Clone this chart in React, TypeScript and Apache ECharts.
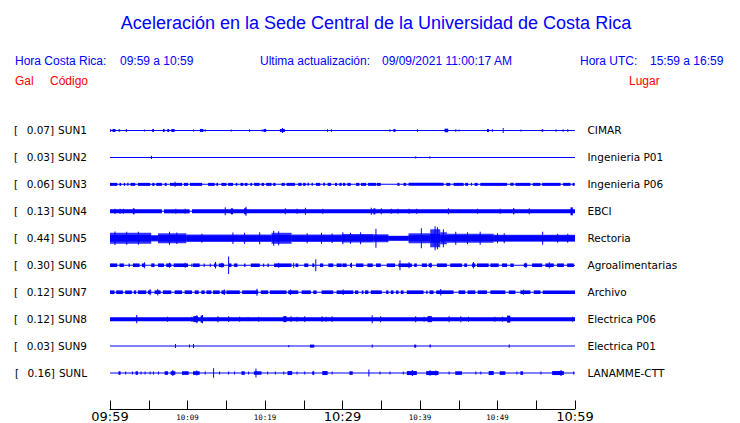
import React, { useEffect, useRef } from 'react';
import * as echarts from 'echarts';

// ---------- texts ----------
const TITLE = 'Aceleración en la Sede Central de la Universidad de Costa Rica';
const CR_LABEL = 'Hora Costa Rica:';
const CR_RANGE = '09:59 a 10:59';
const UPD_LABEL = 'Ultima actualización:';
const UPD_VALUE = '09/09/2021 11:00:17 AM';
const UTC_LABEL = 'Hora UTC:';
const UTC_RANGE = '15:59 a 16:59';
const COL_GAL = 'Gal';
const COL_CODE = 'Código';
const COL_PLACE = 'Lugar';

// ---------- axis ----------
const START_MIN = 9 * 60 + 59; // 09:59 local time
const SPAN_MIN = 60;

// ---------- stations ----------
const CODES = ['SUN1', 'SUN2', 'SUN3', 'SUN4', 'SUN5', 'SUN6', 'SUN7', 'SUN8', 'SUN9', 'SUNL'];
const GAL = ['0.07', '0.03', '0.06', '0.13', '0.44', '0.30', '0.12', '0.12', '0.03', '0.16'];
const PLACES = ['CIMAR', 'Ingenieria P01', 'Ingenieria P06', 'EBCI', 'Rectoria', 'Agroalimentarias', 'Archivo', 'Electrica P06', 'Electrica P01', 'LANAMME-CTT'];

// amplitude counts between two neighbouring traces
const ROW_SPAN = 27;

// ---------- waveform envelopes: [startMin, endMin, halfAmplitude] and spikes [min, halfAmplitude] ----------
type Seg = [number, number, number];
type Spike = [number, number];

const SUN1_SEG: Seg[] = [[0, 0.15, 1.3], [0.32, 0.71, 1.5], [1.1, 1.3, 1.2], [5.45, 5.66, 1.5], [6.83, 7.05, 1.5], [7.39, 7.65, 1.5], [7.91, 8.34, 1.5], [11.61, 12.05, 1.5], [19.8, 20.15, 1.5], [21.92, 22.56, 1.5], [36.57, 36.83, 1.5], [43.17, 43.64, 1.8], [48.65, 48.9, 1.5], [55.7, 55.9, 1.3]];
const SUN1_SPK: Spike[] = [[2.04, 1.5], [4.37, 1], [10.71, 1], [12.22, 1.2], [15.58, 1], [17.95, 1.2], [19.55, 1], [22.2, 2.5], [28.0, 1.2], [28.5, 1.2], [36.05, 1.2], [39.6, 1.2], [44.55, 1.2], [44.98, 1], [49.3, 1.2], [50.67, 2.5], [52.96, 1], [57.5, 1.2], [58.4, 1.2], [59.0, 1.2]];

const SUN2_SEG: Seg[] = [];
const SUN2_SPK: Spike[] = [[5.28, 1.7], [39.4, 1.2], [41.2, 1]];

const SUN3_SEG: Seg[] = [[0, 0.93, 1.5], [1.23, 1.44, 1.5], [1.79, 1.96, 1.5], [2.22, 2.39, 1.5], [2.65, 3.26, 1.5], [3.6, 5.19, 1.5], [5.45, 5.75, 1.5], [5.97, 6.7, 1.5], [7.05, 7.31, 1.5], [7.74, 9.29, 1.5], [9.55, 10.07, 1.5], [10.32, 11.88, 1.5], [12.65, 13.51, 1.5], [13.73, 13.94, 1.5], [14.38, 15.02, 1.5], [15.24, 15.88, 1.5], [16.23, 16.44, 1.5], [16.83, 17.22, 1.5], [17.39, 17.74, 1.5], [18.12, 18.34, 1.5], [18.6, 19.29, 1.5], [19.55, 19.89, 1.5], [20.15, 20.84, 1.5], [21.06, 21.36, 1.5], [22.13, 22.56, 1.5], [22.78, 23.86, 1.5], [24.29, 24.72, 1.5], [24.93, 25.24, 1.5], [25.49, 25.67, 1.5], [26.01, 26.18, 1.5], [26.57, 27.13, 1.5], [27.52, 27.74, 1.5], [28.08, 28.51, 1.5], [29.03, 29.29, 1.5], [29.59, 29.9, 1.5], [30.06, 30.37, 1.5], [30.63, 31.06, 1.5], [31.75, 32.18, 1.5], [32.4, 33.04, 1.5], [33.3, 34.33, 1.5], [34.42, 34.94, 1.5], [37.09, 37.35, 1.5], [37.87, 38.21, 1.5], [38.52, 43.04, 1.5], [43.39, 43.9, 1.5], [44.33, 45.63, 1.5], [45.84, 46.19, 1.5], [46.58, 46.7, 1.5], [47.05, 47.44, 1.5], [47.78, 51.23, 1.5], [51.66, 52.09, 1.5], [52.31, 54.25, 1.5], [54.55, 55.54, 1.5], [55.76, 58.13, 1.5], [58.47, 59.42, 1.5], [59.68, 59.94, 1.5]];
const SUN3_SPK: Spike[] = [[8.34, 2.5]];

const SUN4_SEG: Seg[] = [[0, 6.7, 2], [6.96, 10.28, 2], [10.58, 60, 2], [2.95, 3.17, 3], [15.58, 15.88, 3], [17.3, 17.61, 3], [33.99, 34.25, 3], [52.0, 52.18, 3], [59.42, 59.72, 4]];
const SUN4_SPK: Spike[] = [[0.58, 2.7], [1.23, 2.5], [1.66, 2.5], [8.43, 2.5], [9.63, 2.5], [14.8, 4], [17.48, 4.5], [22.56, 3], [24.07, 2.5], [25.15, 3.5], [27.39, 2.5], [33.65, 3.5], [34.94, 3], [36.23, 2.5], [37.09, 2.5], [38.52, 2.5], [39.51, 2.5], [43.6, 3], [47.35, 2.5], [50.28, 2.5], [54.03, 3]];

const SUN5_ENV: Seg[] = [[0, 5.32, 5.5], [5.32, 6.19, 3.2], [6.19, 9.85, 5], [9.85, 20.84, 3.8], [20.84, 23.43, 5.5], [23.43, 29.9, 3.8], [29.9, 33.99, 4.2], [33.99, 35.93, 4], [35.93, 38.52, 2.5], [38.52, 41.32, 5], [41.32, 42.61, 9], [42.61, 43.47, 6], [43.47, 49.51, 4.6], [49.51, 60, 3.6]];
const SUN5_SEG: Seg[] = [[0, 5.32, 3.3], [5.32, 6.19, 2.3], [6.19, 9.85, 3.2], [9.85, 20.84, 2.8], [20.84, 23.43, 3.3], [23.43, 29.9, 2.8], [29.9, 33.99, 3], [33.99, 35.93, 2.8], [35.93, 38.52, 2.2], [38.52, 41.32, 3], [41.32, 42.61, 4.5], [42.61, 43.47, 3.2], [43.47, 49.51, 3], [49.51, 60, 2.8]];
const SUN5_SPK: Spike[] = [[0.58, 6.8], [2.09, 6.5], [3.6, 6.5], [7.61, 6.5], [8.56, 5.8], [11.79, 4.5], [15.8, 5.8], [17.3, 5.5], [19.25, 6], [21.06, 7.5], [21.7, 7], [25.37, 5], [27.22, 5.5], [28.6, 4.8], [29.98, 6], [30.97, 5.5], [32.27, 6], [34.25, 9.5], [40.11, 10], [41.88, 12], [42.18, 11], [42.95, 9], [44.55, 6.5], [46.06, 6], [47.7, 6.5], [49.94, 5], [50.8, 5], [55.76, 6.5], [57.7, 4.5], [59.0, 4.5]];

const SUN6_SEG: Seg[] = [[0, 0.93, 1.8], [1.23, 1.79, 1.8], [2.39, 2.56, 1.8], [2.95, 3.81, 1.8], [4.12, 4.55, 1.8], [5.32, 5.75, 1.8], [6.19, 6.96, 1.8], [7.26, 7.91, 1.8], [8.21, 10.07, 1.8], [10.5, 10.58, 1.8], [10.71, 11.57, 1.8], [12.09, 12.22, 1.8], [12.87, 12.99, 1.8], [13.43, 13.73, 1.8], [14.03, 14.72, 1.8], [15.32, 15.67, 1.8], [16.01, 16.44, 1.8], [17.31, 17.48, 1.8], [18.17, 19.33, 1.8], [19.76, 19.89, 1.8], [20.32, 20.49, 1.8], [21.18, 23.43, 1.8], [23.94, 24.29, 1.8], [25.06, 25.58, 1.8], [26.1, 26.36, 1.8], [27.09, 27.52, 1.8], [28.17, 28.81, 1.8], [29.24, 29.9, 1.8], [29.98, 30.54, 1.8], [30.97, 31.19, 1.8], [31.75, 32.7, 1.8], [33.21, 33.9, 1.8], [34.33, 34.94, 1.8], [35.71, 36.79, 1.8], [37.22, 38.95, 1.8], [39.25, 39.59, 1.8], [40.24, 40.89, 1.8], [41.1, 41.53, 1.8], [42.18, 43.47, 1.8], [43.9, 45.41, 1.8], [45.71, 46.06, 1.8], [46.7, 47.14, 1.8], [47.35, 48.86, 1.8], [49.08, 50.15, 1.8], [50.58, 51.23, 1.8], [51.66, 52.09, 1.8], [53.39, 53.82, 1.8], [54.46, 55.76, 1.8], [56.19, 57.26, 1.8], [57.7, 58.56, 1.8], [58.99, 59.85, 1.8]];
const SUN6_SPK: Spike[] = [[4.37, 3], [7.61, 2.5], [9.63, 2.5], [13.55, 3.3], [14.37, 2.5], [15.24, 8.7], [21.7, 2.5], [23.64, 2.5], [26.49, 6], [31.1, 2.5], [37.35, 5], [38.52, 3], [41.32, 2.5], [46.83, 3.2], [53.6, 2.5], [56.62, 3]];

const SUN7_SEG: Seg[] = [[0, 0.58, 1.8], [0.8, 1.66, 1.8], [1.96, 2.82, 1.8], [3.08, 3.38, 1.8], [3.6, 4.68, 1.8], [4.89, 5.32, 1.8], [5.75, 6.53, 1.8], [6.83, 7.91, 1.8], [8.34, 9.29, 1.8], [9.63, 10.58, 1.8], [10.93, 11.44, 1.8], [11.79, 12.22, 1.8], [12.44, 13.08, 1.8], [13.3, 14.16, 1.8], [14.38, 14.89, 1.8], [15.02, 16.75, 1.8], [17.05, 19.12, 1.8], [19.46, 20.41, 1.8], [20.62, 22.78, 1.8], [22.99, 24.29, 1.8], [24.72, 25.92, 1.8], [26.23, 26.66, 1.8], [27.3, 28.81, 1.8], [29.24, 31.4, 1.8], [31.62, 32.05, 1.8], [32.48, 32.7, 1.8], [32.91, 33.34, 1.8], [33.65, 35.07, 1.8], [35.63, 35.93, 1.8], [36.23, 36.58, 1.8], [36.92, 37.22, 1.8], [37.52, 37.87, 1.8], [38.3, 40.46, 1.8], [40.8, 40.97, 1.8], [41.23, 41.75, 1.8], [42.09, 44.33, 1.8], [44.98, 45.84, 1.8], [46.14, 47.14, 1.8], [47.44, 48.64, 1.8], [49.08, 51.01, 1.8], [51.45, 52.31, 1.8], [52.95, 54.25, 1.8], [54.68, 55.54, 1.8], [55.84, 60, 1.8]];
const SUN7_SPK: Spike[] = [[5.11, 3], [6.1, 3.3], [14.68, 2.8], [18.9, 3.5], [23.21, 2.8], [30.02, 2.8], [42.61, 3.3], [53.3, 2.5]];

const SUN8_SEG: Seg[] = [[0, 60, 2], [10.75, 11.36, 3], [11.7, 12.0, 3.5], [22.35, 22.78, 3], [40.97, 41.53, 3], [51.23, 51.66, 3.5]];
const SUN8_SPK: Spike[] = [[3.38, 4.2], [7.35, 2.5], [10.5, 2.5], [11.14, 4], [11.87, 4.2], [13.86, 3], [15.24, 2.8], [16.66, 2.5], [17.74, 2.2], [19.12, 2.5], [23.3, 2.8], [24.07, 2.5], [25.06, 2.8], [27.3, 2.8], [27.82, 2.5], [28.6, 2.8], [33.77, 4], [34.85, 3], [39.38, 3], [40.46, 2.5], [43.69, 3], [45.2, 3], [46.19, 2.5], [49.59, 2.5], [50.58, 2.5], [59.63, 2.5]];

const SUN9_SEG: Seg[] = [[25.8, 26.36, 1.5], [39.25, 39.51, 1.5], [41.23, 41.4, 1.5]];
const SUN9_SPK: Spike[] = [[8.38, 2], [10.19, 1.5], [10.71, 2], [23.0, 1.2], [33.77, 1.7], [51.45, 1.7]];

const SUNL_SEG: Seg[] = [[1.1, 1.36, 1.8], [3.3, 3.6, 1.8], [7.05, 7.48, 1.8], [7.82, 8.43, 1.8], [9.29, 10.15, 1.8], [10.71, 11.57, 1.8], [16.96, 17.39, 1.8], [18.56, 19.55, 1.8], [22.91, 23.51, 2], [26.1, 26.36, 1.8], [27.39, 28.08, 2], [30.89, 31.32, 1.8], [38.3, 39.59, 2], [40.8, 42.39, 2], [44.55, 45.41, 1.8], [48.86, 49.51, 2], [50.28, 51.01, 1.8], [52.95, 53.3, 1.8], [57.05, 58.56, 2]];
const SUNL_SPK: Spike[] = [[1.96, 1.5], [2.82, 1.5], [3.94, 1.5], [4.46, 1.5], [5.11, 1.5], [5.54, 1.5], [6.19, 1.5], [8.04, 3], [11.14, 2.5], [12.22, 1.5], [13.3, 4.7], [14.07, 1.5], [15.24, 1.5], [16.01, 1.5], [17.82, 1.5], [18.77, 4.5], [20.28, 1.5], [21.27, 1.5], [22.35, 1.5], [24.07, 1.5], [25.06, 1.5], [28.6, 1.5], [33.34, 3.5], [34.77, 1.5], [36.06, 1.5], [37.78, 1.5], [38.95, 3], [41.23, 2.8], [41.98, 2.5], [43.69, 1.5], [47.14, 1.5], [47.78, 1.5], [52.44, 1.5], [55.54, 1.5], [58.13, 3], [59.76, 1.5]];

const TRACE_SEGS: Seg[][] = [SUN1_SEG, SUN2_SEG, SUN3_SEG, SUN4_SEG, SUN5_SEG, SUN6_SEG, SUN7_SEG, SUN8_SEG, SUN9_SEG, SUNL_SEG];
const TRACE_SPIKES: Spike[][] = [SUN1_SPK, SUN2_SPK, SUN3_SPK, SUN4_SPK, SUN5_SPK, SUN6_SPK, SUN7_SPK, SUN8_SPK, SUN9_SPK, SUNL_SPK];
const TRACE_ENVS: Seg[][] = [[], [], [], [], SUN5_ENV, [], [], [], [], []];

const BLUE = '#0000ff';
const RED = '#ff0000';
const FONT_LABEL = 'DejaVu Sans';
const FONT_HEAD = '"Liberation Sans", Arial, sans-serif';

const pad = (n: number) => (n < 10 ? '0' + n : '' + n);

function buildData() {
  const solid: number[][] = [];
  const env: number[][] = [];
  CODES.forEach((_, row) => {
    solid.push([0, SPAN_MIN, row, 0.5]); // baseline
    TRACE_ENVS[row].forEach(([a, b, amp]) => env.push([a, b, row, amp]));
    TRACE_SEGS[row].forEach(([a, b, amp]) => solid.push([a, b, row, amp]));
    TRACE_SPIKES[row].forEach(([t, amp]) => solid.push([t, t, row, amp]));
  });
  return { solid, env };
}

function makeRender(opacity: number) {
  return (params: any, api: any) => {
    const t0 = api.value(0);
    const t1 = api.value(1);
    const row = api.value(2);
    const amp = api.value(3);
    const a = api.coord([t0, row]);
    const b = api.coord([t1, row]);
    const h = api.size([0, amp / ROW_SPAN])[1];
    const w = Math.max(1, b[0] - a[0]);
    return {
      type: 'rect',
      shape: { x: a[0], y: a[1] - h, width: w, height: 2 * h },
      style: { fill: BLUE, opacity },
    };
  };
}

export default function App() {
  const ref = useRef<HTMLDivElement>(null);
  useEffect(() => {
    if (!ref.current) return;
    const chart = echarts.init(ref.current, undefined, { renderer: 'svg' });
    const { solid, env } = buildData();
    const validRow = (v: number) => Number.isInteger(v) && v >= 0 && v < CODES.length;

    const headText = (text: string, x: number, y: number, fill: string, align = 'left', size = 12) => ({
      type: 'text',
      x,
      y,
      silent: true,
      style: { text, fill, font: `${size}px ${FONT_HEAD}`, align, verticalAlign: 'middle' },
    });

    chart.setOption({
      animation: false,
      backgroundColor: '#ffffff',
      grid: { left: 110, right: 165, top: 103.5, bottom: 13.5, containLabel: false },
      xAxis: {
        type: 'value',
        min: 0,
        max: SPAN_MIN,
        interval: 5,
        position: 'bottom',
        axisLine: { show: true, onZero: false, lineStyle: { color: '#000', width: 1 } },
        axisTick: { show: true, inside: true, length: 8.5, lineStyle: { color: '#000', width: 1 } },
        splitLine: { show: false },
        axisLabel: {
          margin: 1,
          formatter: (v: number) => {
            if (v % 10 !== 0) return '';
            const m = START_MIN + v;
            const s = `${pad(Math.floor(m / 60) % 24)}:${pad(m % 60)}`;
            return v % 30 === 0 ? `{big|${s}}` : `{small|${s}}`;
          },
          rich: {
            big: { fontSize: 13, fontFamily: FONT_LABEL, color: '#000' },
            small: { fontSize: 7.5, fontFamily: 'DejaVu Sans Mono', color: '#000', padding: [3, 0, 0, 0] },
          },
        },
      },
      yAxis: [
        {
          type: 'value',
          inverse: true,
          min: -1,
          max: 10 + 1 / 3,
          interval: 1,
          position: 'left',
          axisLine: { show: false },
          axisTick: { show: false },
          splitLine: { show: false },
          axisLabel: {
            margin: 23,
            align: 'right',
            formatter: (v: number) => (validRow(v) ? `{b|[}{v|${GAL[v]}]}{c|${CODES[v]}}` : ''),
            rich: {
              b: { fontSize: 10.5, fontFamily: FONT_LABEL, color: '#000', padding: [0, 8.5, 0, 0] },
              v: { fontSize: 10.5, fontFamily: FONT_LABEL, color: '#000' },
              c: { fontSize: 10.5, fontFamily: FONT_LABEL, color: '#000', padding: [0, 0, 0, 4] },
            },
          },
        },
        {
          type: 'value',
          inverse: true,
          min: -1,
          max: 10 + 1 / 3,
          interval: 1,
          position: 'right',
          axisLine: { show: false },
          axisTick: { show: false },
          splitLine: { show: false },
          axisLabel: {
            margin: 12.5,
            align: 'left',
            fontSize: 10.5,
            fontFamily: FONT_LABEL,
            color: '#000',
            formatter: (v: number) => (validRow(v) ? PLACES[v] : ''),
          },
        },
      ],
      series: [
        {
          type: 'custom',
          name: 'envelope',
          coordinateSystem: 'cartesian2d',
          renderItem: makeRender(0.8),
          encode: { x: [0, 1], y: 2 },
          data: env,
          silent: true,
        },
        {
          type: 'custom',
          name: 'trace',
          coordinateSystem: 'cartesian2d',
          renderItem: makeRender(1),
          encode: { x: [0, 1], y: 2 },
          data: solid,
          silent: true,
        },
      ],
      graphic: [
        headText(TITLE, 376, 23, BLUE, 'center', 18),
        headText(CR_LABEL, 15, 61, BLUE),
        headText(CR_RANGE, 120, 61, BLUE),
        headText(UPD_LABEL, 260, 61, BLUE),
        headText(UPD_VALUE, 382, 61, BLUE),
        headText(UTC_LABEL, 580, 61, BLUE),
        headText(UTC_RANGE, 650, 61, BLUE),
        headText(COL_GAL, 15, 81, RED),
        headText(COL_CODE, 50, 81, RED),
        headText(COL_PLACE, 629, 81, RED),
      ],
    });
    return () => chart.dispose();
  }, []);
  return (
    <div
      ref={ref}
      style={{ position: 'fixed', left: 0, top: 0, width: 740, height: 423, background: '#fff' }}
    />
  );
}
